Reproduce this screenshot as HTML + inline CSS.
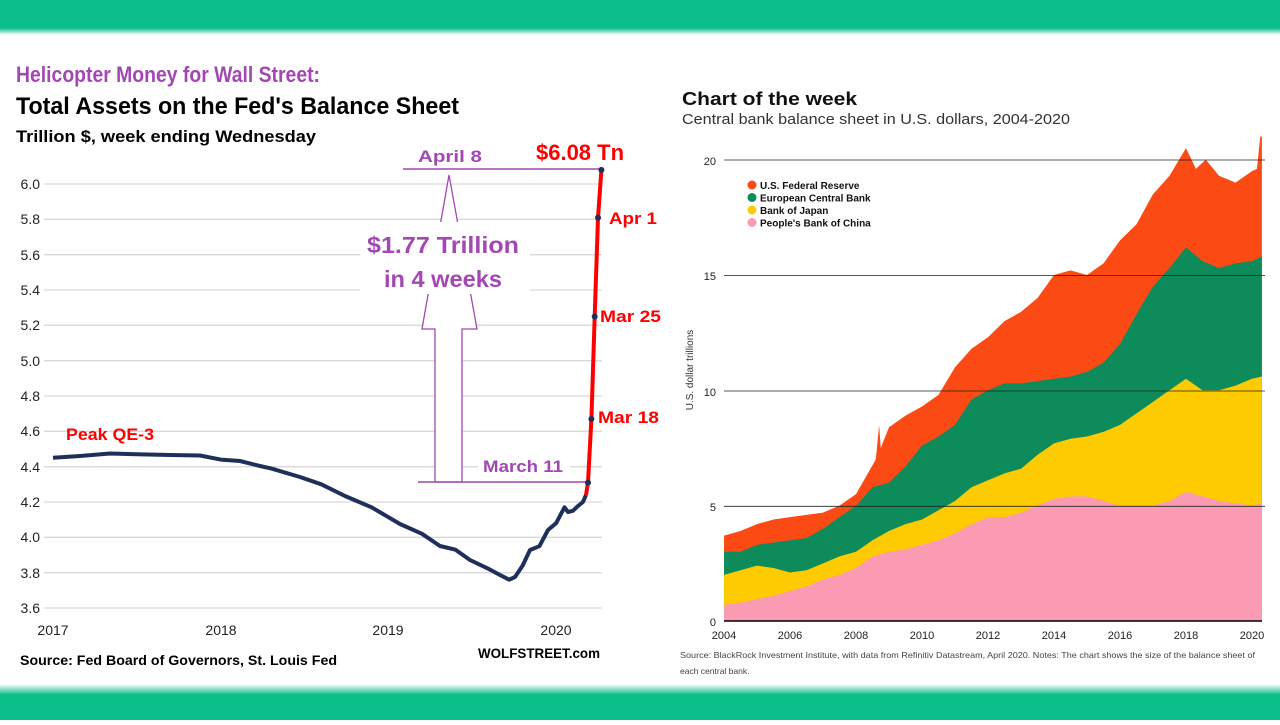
<!DOCTYPE html>
<html><head><meta charset="utf-8"><style>
body{margin:0;width:1280px;height:720px;overflow:hidden;background:#fff;font-family:"Liberation Sans",sans-serif}
</style></head><body>
<svg width="1280" height="720" viewBox="0 0 1280 720" xmlns="http://www.w3.org/2000/svg">
<defs>
<linearGradient id="gt" x1="0" y1="0" x2="0" y2="1"><stop offset="0.8" stop-color="#0bbf8b"/><stop offset="1" stop-color="#0bbf8b" stop-opacity="0"/></linearGradient>
<linearGradient id="gb" x1="0" y1="0" x2="0" y2="1"><stop offset="0" stop-color="#0bbf8b" stop-opacity="0"/><stop offset="0.3" stop-color="#0bbf8b"/></linearGradient>
</defs>
<rect x="0" y="0" width="1280" height="35" fill="url(#gt)"/>
<rect x="0" y="684" width="1280" height="36" fill="url(#gb)"/>

<g font-family="Liberation Sans, sans-serif">
<text x="16" y="82" font-size="22" font-weight="bold" fill="#a347b3" textLength="304" lengthAdjust="spacingAndGlyphs">Helicopter Money for Wall Street:</text>
<text x="16" y="114" font-size="24" font-weight="bold" fill="#000" textLength="443" lengthAdjust="spacingAndGlyphs">Total Assets on the Fed's Balance Sheet</text>
<text x="16" y="142" font-size="17" font-weight="bold" fill="#000" textLength="300" lengthAdjust="spacingAndGlyphs">Trillion $, week ending Wednesday</text>
<g stroke="#d9d9d9" stroke-width="1.3">
<line x1="44" x2="602" y1="184" y2="184"/><line x1="44" x2="602" y1="219.3" y2="219.3"/><line x1="44" x2="602" y1="254.7" y2="254.7"/><line x1="44" x2="602" y1="290" y2="290"/><line x1="44" x2="602" y1="325.3" y2="325.3"/><line x1="44" x2="602" y1="360.7" y2="360.7"/><line x1="44" x2="602" y1="396" y2="396"/><line x1="44" x2="602" y1="431.3" y2="431.3"/><line x1="44" x2="602" y1="466.7" y2="466.7"/><line x1="44" x2="602" y1="502" y2="502"/><line x1="44" x2="602" y1="537.3" y2="537.3"/><line x1="44" x2="602" y1="572.7" y2="572.7"/><line x1="44" x2="602" y1="608" y2="608"/>
</g>
<g font-size="14" fill="#222" text-anchor="end">
<text x="40" y="189">6.0</text><text x="40" y="224">5.8</text><text x="40" y="260">5.6</text><text x="40" y="295">5.4</text><text x="40" y="330">5.2</text><text x="40" y="366">5.0</text><text x="40" y="401">4.8</text><text x="40" y="436">4.6</text><text x="40" y="472">4.4</text><text x="40" y="507">4.2</text><text x="40" y="542">4.0</text><text x="40" y="578">3.8</text><text x="40" y="613">3.6</text>
</g>
<g font-size="14" fill="#222" text-anchor="middle">
<text x="53" y="635">2017</text><text x="221" y="635">2018</text><text x="388" y="635">2019</text><text x="556" y="635">2020</text>
</g>
<polygon points="435,482 435,329 422,329 449,175 477,329 462,329 462,482" fill="#fff" stroke="#a347b3" stroke-width="1.3"/>
<rect x="360" y="222" width="170" height="72" fill="#fff"/>
<text x="443" y="253" font-size="23" font-weight="bold" fill="#a347b3" text-anchor="middle" textLength="152" lengthAdjust="spacingAndGlyphs">$1.77 Trillion</text>
<text x="443" y="287" font-size="23" font-weight="bold" fill="#a347b3" text-anchor="middle" textLength="118" lengthAdjust="spacingAndGlyphs">in 4 weeks</text>
<line x1="403" x2="601" y1="169" y2="169" stroke="#a347b3" stroke-width="1.5"/>
<line x1="418" x2="588" y1="482" y2="482" stroke="#a347b3" stroke-width="1.5"/>
<text x="450" y="162" font-size="17" font-weight="bold" fill="#a347b3" text-anchor="middle" textLength="64" lengthAdjust="spacingAndGlyphs">April 8</text>
<rect x="478" y="454" width="92" height="22" fill="#fff"/>
<text x="483" y="472" font-size="17" font-weight="bold" fill="#a347b3" textLength="80" lengthAdjust="spacingAndGlyphs">March 11</text>
<polyline fill="none" stroke="#1f2f5a" stroke-width="4" stroke-linejoin="round" points="53,457.8 80,456 110,453.5 136.9,454.3 170,455 200,455.5 220.7,459.6 240,461 260,466 271,468.4 300,477 321.3,484.3 345,496 371.6,507.3 400,524 422,533.8 440,546 455.5,549.7 470,560 489,569.1 500,575 509.2,579.7 515,577 522.6,565.6 530,550 539.4,546.2 548,530 556.1,523.2 564.5,507.3 568,512 572.9,510.8 578,506 582.9,502 586,495"/>
<polyline fill="none" stroke="#ff0000" stroke-width="4" stroke-linejoin="round" points="586,495 588,482.6 591.4,419 594.7,316.5 598,217.6 601.4,169.9"/>
<g fill="#1f2f5a"><circle cx="588" cy="482.6" r="3"/><circle cx="591.4" cy="419" r="3"/><circle cx="594.7" cy="316.5" r="3"/><circle cx="598" cy="217.6" r="3"/><circle cx="601.4" cy="169.9" r="3"/></g>
<g font-weight="bold" fill="#ff0000">
<text x="536" y="160" font-size="22" textLength="88" lengthAdjust="spacingAndGlyphs">$6.08 Tn</text>
<text x="609" y="224" font-size="17" textLength="48" lengthAdjust="spacingAndGlyphs">Apr 1</text>
<text x="600" y="322" font-size="17" textLength="61" lengthAdjust="spacingAndGlyphs">Mar 25</text>
<text x="598" y="423" font-size="17" textLength="61" lengthAdjust="spacingAndGlyphs">Mar 18</text>
<text x="66" y="440" font-size="17" textLength="88" lengthAdjust="spacingAndGlyphs">Peak QE-3</text>
</g>
<text x="20" y="665" font-size="14" font-weight="bold" fill="#000" textLength="317" lengthAdjust="spacingAndGlyphs">Source: Fed Board of Governors, St. Louis Fed</text>
<text x="478" y="658" font-size="14" font-weight="bold" fill="#000" textLength="122" lengthAdjust="spacingAndGlyphs">WOLFSTREET.com</text>
</g>

<g font-family="Liberation Sans, sans-serif">
<text x="682" y="105" font-size="18" font-weight="bold" fill="#111" textLength="175" lengthAdjust="spacingAndGlyphs">Chart of the week</text>
<text x="682" y="124" font-size="15" fill="#333" textLength="388" lengthAdjust="spacingAndGlyphs">Central bank balance sheet in U.S. dollars, 2004-2020</text>
<g transform="translate(724,621) scale(33,-23.07)">
<polygon fill="#fc4a14" points="0,0 0,3.7 0.5,3.9 1,4.2 1.5,4.4 2,4.5 2.5,4.6 3,4.7 3.5,5.0 4,5.5 4.4,6.5 4.6,7.0 4.7,8.5 4.75,7.5 5,8.4 5.5,8.9 6,9.3 6.5,9.8 7,11.0 7.5,11.8 8,12.3 8.5,13.0 9,13.4 9.5,14.0 10,15.0 10.5,15.2 11,15.0 11.5,15.5 12,16.5 12.5,17.2 13,18.5 13.5,19.3 14,20.5 14.3,19.6 14.6,20.0 15,19.3 15.5,19.0 16,19.5 16.15,19.6 16.25,21.0 16.3,21 16.3,0"/>
<polygon fill="#0e8b5b" points="0,0 0,3.0 0.5,3.0 1,3.3 1.5,3.4 2,3.5 2.5,3.6 3,4.0 3.5,4.5 4,5.0 4.5,5.8 5,6.0 5.5,6.7 6,7.6 6.5,8.0 7,8.5 7.5,9.6 8,10.0 8.5,10.3 9,10.3 9.5,10.4 10,10.5 10.5,10.6 11,10.8 11.5,11.2 12,12.0 12.5,13.3 13,14.5 13.5,15.3 14,16.2 14.5,15.6 15,15.3 15.5,15.5 16,15.6 16.3,15.8 16.3,0"/>
<polygon fill="#fdcb00" points="0,0 0,2.0 0.5,2.2 1,2.4 1.5,2.3 2,2.1 2.5,2.2 3,2.5 3.5,2.8 4,3.0 4.5,3.5 5,3.9 5.5,4.2 6,4.4 6.5,4.8 7,5.2 7.5,5.8 8,6.1 8.5,6.4 9,6.6 9.5,7.2 10,7.7 10.5,7.9 11,8.0 11.5,8.2 12,8.5 12.5,9.0 13,9.5 13.5,10.0 14,10.5 14.5,10.0 15,10.0 15.5,10.2 16,10.5 16.3,10.6 16.3,0"/>
<polygon fill="#fb9bb3" points="0,0 0,0.7 0.5,0.8 1,0.95 1.5,1.1 2,1.3 2.5,1.5 3,1.8 3.5,2.0 4,2.3 4.5,2.8 5,3.0 5.5,3.1 6,3.3 6.5,3.5 7,3.8 7.5,4.2 8,4.5 8.5,4.5 9,4.7 9.5,5.0 10,5.3 10.5,5.4 11,5.4 11.5,5.2 12,5.0 12.5,5.0 13,5.0 13.5,5.2 14,5.6 14.5,5.4 15,5.2 15.5,5.1 16,5.0 16.3,5.1 16.3,0"/>
</g>
<g stroke="#222" stroke-width="0.8">
<line x1="724" x2="1265" y1="160" y2="160"/><line x1="724" x2="1265" y1="275.6" y2="275.6"/><line x1="724" x2="1265" y1="391" y2="391"/><line x1="724" x2="1265" y1="506.3" y2="506.3"/>
</g>
<line x1="724" x2="1262" y1="621" y2="621" stroke="#000" stroke-width="1.5"/>
<g font-size="11" fill="#222" text-anchor="end">
<text x="716" y="165">20</text><text x="716" y="280">15</text><text x="716" y="396">10</text><text x="716" y="511">5</text><text x="716" y="626">0</text>
</g>
<text transform="translate(693,370) rotate(-90)" font-size="10" fill="#333" text-anchor="middle">U.S. dollar trillions</text>
<g font-size="11" fill="#222" text-anchor="middle">
<text x="724" y="639">2004</text><text x="790" y="639">2006</text><text x="856" y="639">2008</text><text x="922" y="639">2010</text><text x="988" y="639">2012</text><text x="1054" y="639">2014</text><text x="1120" y="639">2016</text><text x="1186" y="639">2018</text><text x="1252" y="639">2020</text>
</g>
<g font-size="10" font-weight="bold" fill="#111">
<circle cx="752" cy="185" r="4.5" fill="#fc4a14"/><text x="760" y="189">U.S. Federal Reserve</text>
<circle cx="752" cy="197.5" r="4.5" fill="#0e8b5b"/><text x="760" y="201.5">European Central Bank</text>
<circle cx="752" cy="210" r="4.5" fill="#fdcb00"/><text x="760" y="214">Bank of Japan</text>
<circle cx="752" cy="222.5" r="4.5" fill="#fb9bb3"/><text x="760" y="226.5">People's Bank of China</text>
</g>
<text x="680" y="658" font-size="8.5" fill="#444" textLength="575" lengthAdjust="spacingAndGlyphs">Source: BlackRock Investment Institute, with data from Refinitiv Datastream, April 2020. Notes: The chart shows the size of the balance sheet of</text>
<text x="680" y="674" font-size="8.5" fill="#444">each central bank.</text>
</g>
</svg>
</body></html>
